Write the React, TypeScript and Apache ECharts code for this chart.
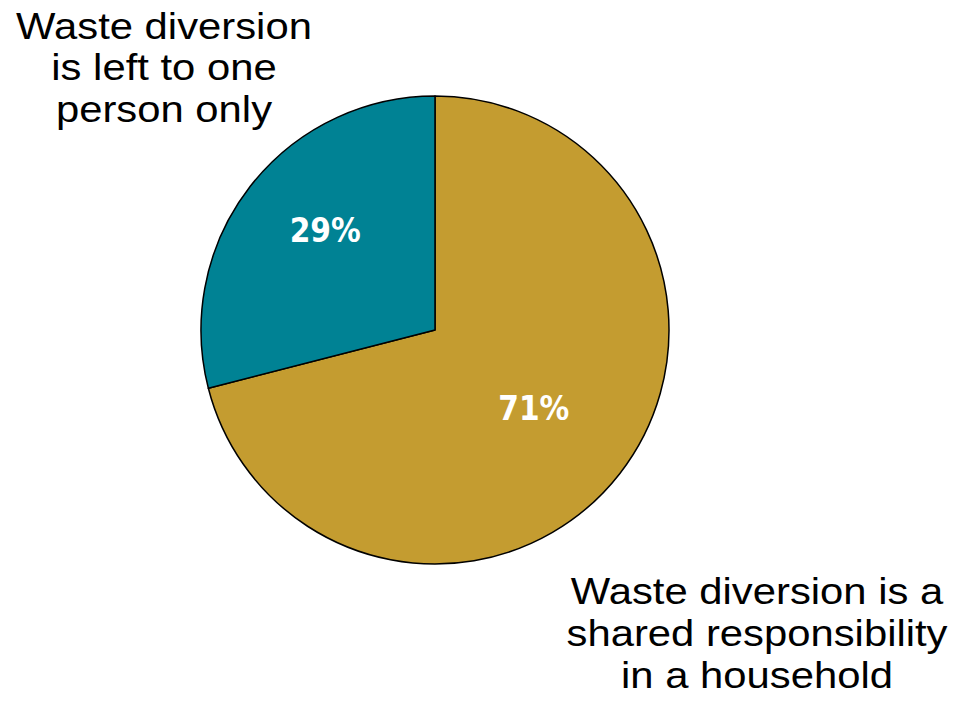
import React, { useEffect, useRef } from "react";
import * as echarts from "echarts";

const categories = [
  "Waste diversion is a shared responsibility in a household",
  "Waste diversion is left to one person only",
];
const values = [71, 29];
const colors = ["#C49C30", "#008294"];
const labelLines = [
  ["Waste diversion is a", "shared responsibility", "in a household"],
  ["Waste diversion", "is left to one", "person only"],
];

export default function App() {
  const ref = useRef<HTMLDivElement>(null);
  useEffect(() => {
    if (!ref.current) return;
    const chart = echarts.init(ref.current, null, { renderer: "svg" });
    const labelOffsets = [
      [4, 5],
      [-15, -26],
    ];
    chart.setOption({
      animation: false,
      backgroundColor: "#ffffff",
      series: [
        {
          type: "pie",
          center: [435, 330],
          radius: [0, 234],
          startAngle: 90,
          clockwise: true,
          silent: true,
          itemStyle: { borderColor: "#000000", borderWidth: 1.5 },
          label: {
            show: true,
            position: "inside",
            formatter: "{c}%",
            color: "#ffffff",
            fontFamily: "'DejaVu Sans Condensed', 'Roboto Condensed', Roboto, sans-serif",
            fontWeight: "bold",
            fontSize: 33,
          },
          labelLine: { show: false },
          labelLayout: (p: any) => ({
            dx: labelOffsets[p.dataIndex][0],
            dy: labelOffsets[p.dataIndex][1],
          }),
          data: categories.map((name, i) => ({
            name,
            value: values[i],
            itemStyle: { color: colors[i] },
          })),
        },
      ],
      graphic: [
        {
          type: "text",
          x: 164,
          y: 5,
          scaleX: 1.13,
          style: {
            text: labelLines[1].join("\n"),
            fontFamily: "Liberation Sans",
            fontSize: 37,
            lineHeight: 41.5,
            fill: "#000000",
            align: "center",
            verticalAlign: "top",
          },
        },
        {
          type: "text",
          x: 757,
          y: 570,
          scaleX: 1.13,
          style: {
            text: labelLines[0].join("\n"),
            fontFamily: "Liberation Sans",
            fontSize: 37,
            lineHeight: 42,
            fill: "#000000",
            align: "center",
            verticalAlign: "top",
          },
        },
      ],
    });
    return () => chart.dispose();
  }, []);
  return (
    <div
      ref={ref}
      style={{ position: "fixed", left: 0, top: 0, width: 957, height: 704 }}
    />
  );
}
